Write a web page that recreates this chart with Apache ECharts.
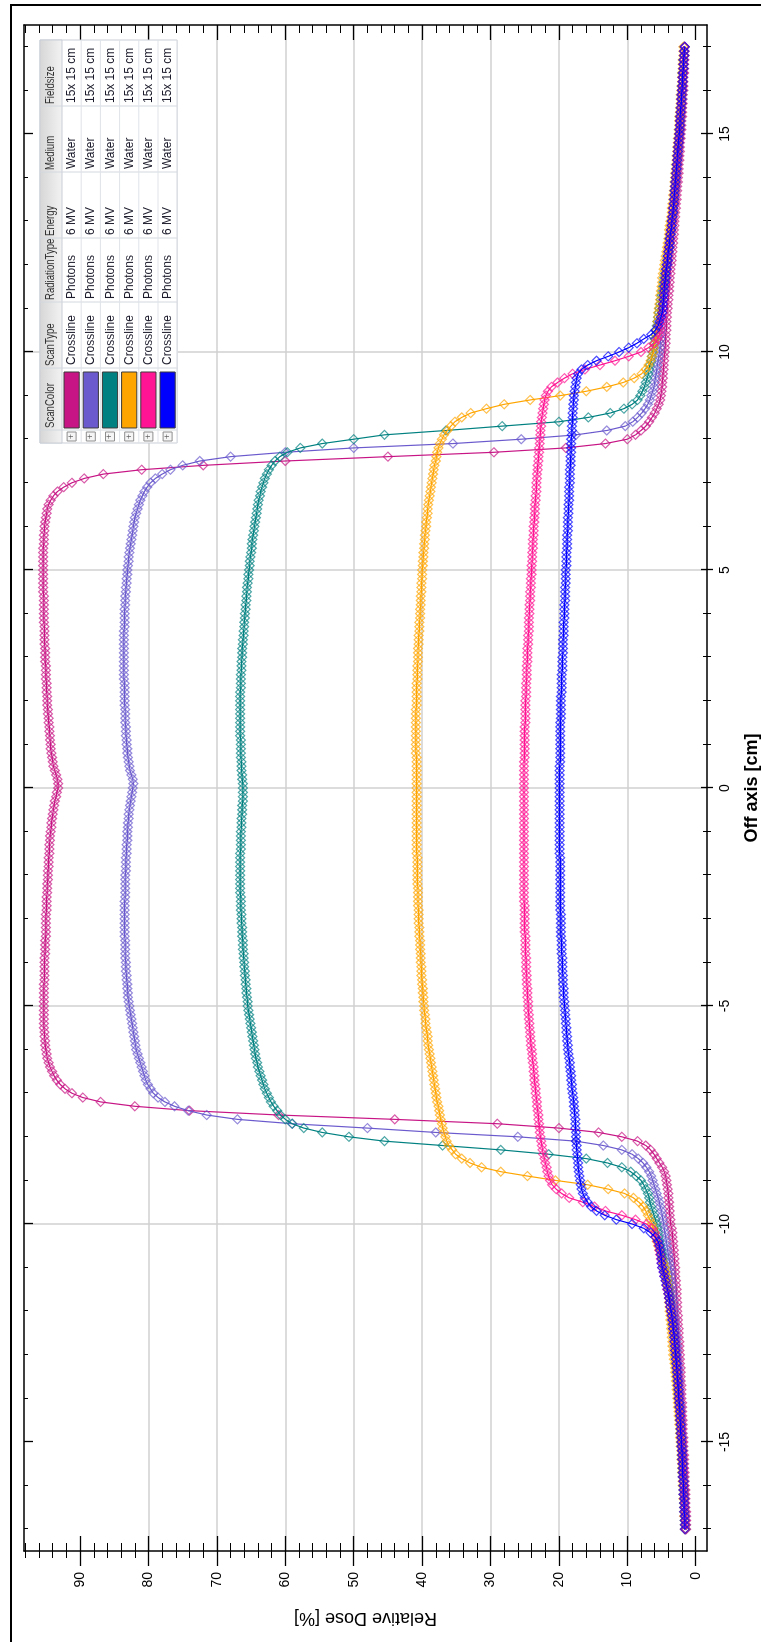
<!DOCTYPE html>
<html><head><meta charset="utf-8">
<script src="https://cdn.jsdelivr.net/npm/echarts@6/dist/echarts.min.js"></script>
<style>
html,body{margin:0;padding:0;background:#fff;overflow:hidden;width:761px;height:1642px;}
#chart{position:absolute;left:0;top:0;width:1642px;height:761px;transform-origin:0 0;transform:translateY(1642px) rotate(-90deg);}
</style></head><body><div id="chart"></div>
<script>
// ---------- DATA ----------
const offAxis = [
-17,-16.9,-16.8,-16.7,-16.6,-16.5,-16.4,-16.3,-16.2,-16.1,
-16,-15.9,-15.8,-15.7,-15.6,-15.5,-15.4,-15.3,-15.2,-15.1,
-15,-14.9,-14.8,-14.7,-14.6,-14.5,-14.4,-14.3,-14.2,-14.1,
-14,-13.9,-13.8,-13.7,-13.6,-13.5,-13.4,-13.3,-13.2,-13.1,
-13,-12.9,-12.8,-12.7,-12.6,-12.5,-12.4,-12.3,-12.2,-12.1,
-12,-11.9,-11.8,-11.7,-11.6,-11.5,-11.4,-11.3,-11.2,-11.1,
-11,-10.9,-10.8,-10.7,-10.6,-10.5,-10.4,-10.3,-10.2,-10.1,
-10,-9.9,-9.8,-9.7,-9.6,-9.5,-9.4,-9.3,-9.2,-9.1,
-9,-8.9,-8.8,-8.7,-8.6,-8.5,-8.4,-8.3,-8.2,-8.1,
-8,-7.9,-7.8,-7.7,-7.6,-7.5,-7.4,-7.3,-7.2,-7.1,
-7,-6.9,-6.8,-6.7,-6.6,-6.5,-6.4,-6.3,-6.2,-6.1,
-6,-5.9,-5.8,-5.7,-5.6,-5.5,-5.4,-5.3,-5.2,-5.1,
-5,-4.9,-4.8,-4.7,-4.6,-4.5,-4.4,-4.3,-4.2,-4.1,
-4,-3.9,-3.8,-3.7,-3.6,-3.5,-3.4,-3.3,-3.2,-3.1,
-3,-2.9,-2.8,-2.7,-2.6,-2.5,-2.4,-2.3,-2.2,-2.1,
-2,-1.9,-1.8,-1.7,-1.6,-1.5,-1.4,-1.3,-1.2,-1.1,
-1,-0.9,-0.8,-0.7,-0.6,-0.5,-0.4,-0.3,-0.2,-0.1,
0,0.1,0.2,0.3,0.4,0.5,0.6,0.7,0.8,0.9,
1,1.1,1.2,1.3,1.4,1.5,1.6,1.7,1.8,1.9,
2,2.1,2.2,2.3,2.4,2.5,2.6,2.7,2.8,2.9,
3,3.1,3.2,3.3,3.4,3.5,3.6,3.7,3.8,3.9,
4,4.1,4.2,4.3,4.4,4.5,4.6,4.7,4.8,4.9,
5,5.1,5.2,5.3,5.4,5.5,5.6,5.7,5.8,5.9,
6,6.1,6.2,6.3,6.4,6.5,6.6,6.7,6.8,6.9,
7,7.1,7.2,7.3,7.4,7.5,7.6,7.7,7.8,7.9,
8,8.1,8.2,8.3,8.4,8.5,8.6,8.7,8.8,8.9,
9,9.1,9.2,9.3,9.4,9.5,9.6,9.7,9.8,9.9,
10,10.1,10.2,10.3,10.4,10.5,10.6,10.7,10.8,10.9,
11,11.1,11.2,11.3,11.4,11.5,11.6,11.7,11.8,11.9,
12,12.1,12.2,12.3,12.4,12.5,12.6,12.7,12.8,12.9,
13,13.1,13.2,13.3,13.4,13.5,13.6,13.7,13.8,13.9,
14,14.1,14.2,14.3,14.4,14.5,14.6,14.7,14.8,14.9,
15,15.1,15.2,15.3,15.4,15.5,15.6,15.7,15.8,15.9,
16,16.1,16.2,16.3,16.4,16.5,16.6,16.7,16.8,16.9,
17];

const doseMagenta = [
1.4,1.4,1.4,1.4,1.4,1.5,1.5,1.5,1.5,1.5,
1.6,1.6,1.6,1.6,1.7,1.7,1.7,1.7,1.8,1.8,
1.8,1.8,1.9,1.9,1.9,1.9,2.0,2.0,2.0,2.0,
2.1,2.1,2.1,2.1,2.2,2.2,2.2,2.2,2.3,2.3,
2.3,2.4,2.4,2.4,2.5,2.5,2.5,2.6,2.6,2.6,
2.7,2.7,2.7,2.8,2.8,2.8,2.9,2.9,3.0,3.0,
3.0,3.1,3.1,3.2,3.2,3.3,3.3,3.4,3.4,3.5,
3.7,3.7,3.8,3.8,3.9,3.9,4.0,4.0,4.1,4.2,
4.3,4.4,4.6,4.9,5.3,5.7,6.1,6.6,7.3,8.5,
10.8,14.2,20,29,44,61,74,82,87,89.6,
91.2,92.2,92.9,93.4,93.8,94.1,94.4,94.6,94.8,94.9,
95.0,95.1,95.1,95.2,95.2,95.3,95.3,95.3,95.3,95.3,
95.3,95.3,95.3,95.3,95.3,95.3,95.2,95.2,95.2,95.2,
95.2,95.2,95.1,95.1,95.1,95.1,95.0,95.0,95.0,95.0,
95.0,95.0,94.9,94.9,94.9,94.9,94.8,94.8,94.8,94.7,
94.7,94.7,94.6,94.6,94.6,94.5,94.5,94.5,94.4,94.4,
94.3,94.2,94.2,94.1,94.0,93.9,93.8,93.7,93.5,93.4,
93.2,93.2,93.3,93.5,93.7,93.9,94.0,94.1,94.2,94.3,
94.3,94.4,94.4,94.5,94.5,94.6,94.6,94.7,94.7,94.8,
94.8,94.8,94.9,94.9,94.9,95.0,95.0,95.0,95.0,95.1,
95.1,95.1,95.1,95.2,95.2,95.2,95.2,95.2,95.3,95.3,
95.3,95.3,95.3,95.3,95.3,95.4,95.4,95.4,95.4,95.4,
95.4,95.4,95.4,95.4,95.4,95.4,95.3,95.3,95.3,95.2,
95.2,95.1,95.0,94.9,94.8,94.6,94.3,93.9,93.3,92.4,
91.2,89.4,86.6,81,72,60,45,29.5,19,13.2,
10.0,8.8,8.0,7.3,6.8,6.4,6.0,5.7,5.4,5.2,
5.1,5.0,4.9,4.9,4.8,4.8,4.7,4.7,4.6,4.6,
4.5,4.5,4.4,4.4,4.4,4.3,4.3,4.3,4.2,4.2,
4.1,4.1,4.0,4.0,3.9,3.9,3.8,3.8,3.7,3.7,
3.6,3.5,3.5,3.4,3.4,3.3,3.3,3.2,3.2,3.1,
3.1,3.0,3.0,2.9,2.9,2.8,2.8,2.7,2.7,2.6,
2.6,2.5,2.5,2.5,2.4,2.4,2.3,2.3,2.3,2.2,
2.2,2.1,2.1,2.1,2.0,2.0,2.0,1.9,1.9,1.9,
1.8,1.8,1.8,1.8,1.7,1.7,1.7,1.7,1.6,1.6,
1.6];

const dosePurple = [
1.5,1.5,1.5,1.5,1.6,1.6,1.6,1.6,1.7,1.7,
1.7,1.7,1.8,1.8,1.8,1.8,1.9,1.9,1.9,1.9,
2.0,2.0,2.0,2.1,2.1,2.1,2.2,2.2,2.2,2.3,
2.3,2.3,2.4,2.4,2.4,2.5,2.5,2.5,2.6,2.6,
2.7,2.7,2.7,2.8,2.8,2.9,2.9,3.0,3.0,3.1,
3.1,3.2,3.2,3.3,3.3,3.4,3.4,3.5,3.5,3.6,
3.7,3.8,3.9,4.0,4.1,4.2,4.3,4.4,4.5,4.6,
4.7,4.8,4.9,5.0,5.2,5.3,5.5,5.7,5.9,6.1,
6.3,6.5,6.8,7.2,7.7,8.4,9.3,10.8,13.5,17.5,
26,38,48,59,67,71.5,74.2,76.2,77.6,78.6,
79.3,79.7,80.1,80.4,80.6,80.8,81.0,81.2,81.4,81.6,
81.8,81.9,82.0,82.1,82.2,82.3,82.4,82.5,82.6,82.7,
82.8,82.9,83.0,83.0,83.1,83.1,83.2,83.2,83.3,83.3,
83.3,83.4,83.4,83.4,83.4,83.4,83.5,83.5,83.5,83.5,
83.5,83.5,83.5,83.5,83.5,83.4,83.4,83.4,83.4,83.4,
83.4,83.3,83.3,83.3,83.3,83.2,83.2,83.2,83.1,83.1,
83.1,83.0,83.0,82.9,82.9,82.8,82.7,82.6,82.5,82.4,
82.3,82.2,82.3,82.5,82.7,82.8,82.9,83.0,83.1,83.1,
83.2,83.2,83.3,83.3,83.3,83.4,83.4,83.4,83.4,83.5,
83.5,83.5,83.5,83.5,83.5,83.6,83.6,83.6,83.6,83.6,
83.6,83.6,83.6,83.6,83.6,83.6,83.6,83.5,83.5,83.5,
83.5,83.5,83.4,83.4,83.4,83.3,83.3,83.2,83.2,83.1,
83.1,83.0,82.9,82.9,82.8,82.7,82.6,82.5,82.4,82.3,
82.2,82.1,82.0,81.8,81.6,81.4,81.2,80.9,80.6,80.2,
79.7,79.0,78.0,76.8,75.0,72.5,68.0,60.0,50.0,35.5,
25.5,17.5,13.0,10.3,9.2,8.5,7.9,7.4,7.0,6.7,
6.5,6.3,6.1,6.0,5.9,5.8,5.7,5.6,5.5,5.4,
5.3,5.2,5.2,5.1,5.1,5.0,5.0,4.9,4.9,4.8,
4.8,4.7,4.7,4.6,4.5,4.5,4.4,4.3,4.3,4.2,
4.1,4.0,4.0,3.9,3.8,3.8,3.7,3.6,3.6,3.5,
3.4,3.4,3.3,3.3,3.2,3.1,3.1,3.0,3.0,2.9,
2.9,2.8,2.8,2.7,2.7,2.6,2.6,2.5,2.5,2.4,
2.4,2.3,2.3,2.2,2.2,2.2,2.1,2.1,2.0,2.0,
2.0,1.9,1.9,1.9,1.8,1.8,1.8,1.7,1.7,1.7,
1.6];

const doseTeal = [
1.5,1.5,1.6,1.6,1.6,1.6,1.7,1.7,1.7,1.7,
1.8,1.8,1.8,1.9,1.9,1.9,1.9,2.0,2.0,2.0,
2.1,2.1,2.2,2.2,2.2,2.3,2.3,2.3,2.4,2.4,
2.5,2.5,2.6,2.6,2.7,2.7,2.8,2.8,2.9,2.9,
3.0,3.0,3.1,3.1,3.2,3.2,3.3,3.4,3.4,3.5,
3.6,3.7,3.7,3.8,3.9,4.0,4.1,4.2,4.3,4.5,
4.6,4.7,4.8,4.9,5.0,5.2,5.3,5.4,5.5,5.6,
5.7,5.9,6.1,6.3,6.5,6.7,6.8,7.0,7.3,7.6,
8.0,8.7,9.5,10.8,12.9,16,21.5,28.5,37,45.5,
50.7,54.6,57.3,59.0,60.0,60.7,61.2,61.7,62.1,62.4,
62.7,63.0,63.2,63.4,63.6,63.8,64.0,64.1,64.3,64.4,
64.5,64.6,64.7,64.8,64.9,65.0,65.1,65.2,65.3,65.4,
65.5,65.5,65.6,65.7,65.7,65.8,65.8,65.9,65.9,66.0,
66.0,66.1,66.1,66.2,66.2,66.2,66.3,66.3,66.3,66.4,
66.4,66.4,66.5,66.5,66.5,66.5,66.6,66.6,66.6,66.6,
66.6,66.6,66.6,66.6,66.6,66.6,66.5,66.5,66.5,66.5,
66.5,66.4,66.4,66.4,66.3,66.3,66.3,66.2,66.2,66.2,
66.2,66.2,66.3,66.3,66.4,66.4,66.4,66.5,66.5,66.5,
66.5,66.5,66.6,66.6,66.6,66.6,66.6,66.6,66.6,66.6,
66.6,66.6,66.6,66.5,66.5,66.5,66.5,66.4,66.4,66.4,
66.3,66.3,66.3,66.2,66.2,66.1,66.1,66.0,66.0,65.9,
65.9,65.8,65.8,65.7,65.7,65.6,65.6,65.5,65.4,65.4,
65.3,65.2,65.2,65.1,65.0,64.9,64.9,64.8,64.7,64.6,
64.5,64.4,64.3,64.2,64.1,64.0,63.9,63.7,63.6,63.4,
63.2,63.0,62.7,62.4,62.0,61.5,60.8,59.7,57.8,54.6,
50.0,45.5,36.5,28.3,20.0,15.7,12.5,10.5,9.3,8.5,
8.1,7.8,7.5,7.3,7.1,6.9,6.8,6.7,6.5,6.4,
6.3,6.2,6.1,6.0,5.9,5.8,5.7,5.6,5.5,5.4,
5.3,5.2,5.1,5.0,4.9,4.8,4.7,4.6,4.5,4.4,
4.3,4.2,4.1,4.0,3.9,3.8,3.8,3.7,3.6,3.5,
3.5,3.4,3.3,3.3,3.2,3.1,3.1,3.0,3.0,2.9,
2.9,2.8,2.8,2.7,2.7,2.6,2.6,2.5,2.5,2.4,
2.4,2.3,2.3,2.3,2.2,2.2,2.1,2.1,2.1,2.0,
2.0,2.0,1.9,1.9,1.9,1.8,1.8,1.8,1.7,1.7,
1.7];

const doseOrange = [
1.6,1.6,1.6,1.7,1.7,1.7,1.7,1.8,1.8,1.8,
1.9,1.9,1.9,2.0,2.0,2.0,2.1,2.1,2.1,2.2,
2.2,2.3,2.3,2.3,2.4,2.4,2.5,2.5,2.6,2.6,
2.7,2.7,2.8,2.8,2.9,2.9,3.0,3.0,3.1,3.2,
3.3,3.3,3.4,3.4,3.5,3.5,3.6,3.6,3.7,3.7,
3.8,3.8,3.9,3.9,4.0,4.0,4.1,4.2,4.3,4.4,
4.5,4.7,4.9,5.1,5.3,5.5,5.7,5.9,6.0,6.2,
6.4,6.7,7.0,7.3,7.7,8.3,9.1,10.4,12.8,15.8,
20.5,24.6,28.5,31.3,33.0,34.2,35.1,35.6,36.1,36.4,
36.6,36.8,37.0,37.1,37.3,37.4,37.5,37.6,37.8,37.9,
38.0,38.1,38.2,38.3,38.4,38.5,38.6,38.7,38.8,38.9,
39.0,39.1,39.2,39.2,39.3,39.4,39.5,39.5,39.6,39.7,
39.7,39.8,39.8,39.9,39.9,40.0,40.0,40.1,40.1,40.1,
40.2,40.2,40.2,40.3,40.3,40.3,40.4,40.4,40.4,40.5,
40.5,40.5,40.5,40.6,40.6,40.6,40.6,40.6,40.7,40.7,
40.7,40.7,40.7,40.7,40.7,40.8,40.8,40.8,40.8,40.8,
40.8,40.8,40.8,40.8,40.8,40.8,40.8,40.8,40.8,40.8,
40.8,40.8,40.8,40.8,40.8,40.8,40.8,40.8,40.9,40.9,
40.9,40.9,40.9,40.9,40.9,40.9,40.9,40.9,40.9,40.8,
40.8,40.8,40.8,40.8,40.8,40.7,40.7,40.7,40.7,40.6,
40.6,40.6,40.6,40.5,40.5,40.5,40.4,40.4,40.4,40.3,
40.3,40.3,40.2,40.2,40.2,40.1,40.1,40.1,40.0,40.0,
40.0,39.9,39.9,39.8,39.8,39.7,39.7,39.6,39.6,39.5,
39.4,39.4,39.3,39.2,39.2,39.1,39.0,38.9,38.8,38.7,
38.6,38.5,38.4,38.3,38.2,38.0,37.9,37.8,37.6,37.4,
37.1,36.8,36.3,35.8,35.2,34.2,32.9,30.6,28.0,24.2,
19.8,16.0,13.0,10.6,9.0,7.9,7.3,6.9,6.6,6.4,
6.2,6.1,6.0,5.9,5.8,5.7,5.6,5.6,5.5,5.5,
5.4,5.3,5.2,5.2,5.1,5.0,4.9,4.9,4.8,4.7,
4.6,4.5,4.4,4.3,4.2,4.1,4.0,3.9,3.9,3.8,
3.7,3.6,3.5,3.5,3.4,3.3,3.3,3.2,3.1,3.1,
3.0,3.0,2.9,2.9,2.8,2.8,2.7,2.7,2.6,2.6,
2.5,2.5,2.4,2.4,2.4,2.3,2.3,2.2,2.2,2.2,
2.1,2.1,2.0,2.0,2.0,1.9,1.9,1.9,1.8,1.8,
1.8];

const dosePink = [
1.5,1.5,1.5,1.6,1.6,1.6,1.6,1.7,1.7,1.7,
1.7,1.8,1.8,1.8,1.8,1.9,1.9,1.9,2.0,2.0,
2.0,2.1,2.1,2.1,2.2,2.2,2.2,2.3,2.3,2.4,
2.4,2.4,2.5,2.5,2.6,2.6,2.7,2.7,2.8,2.8,
2.9,3.0,3.0,3.1,3.1,3.2,3.3,3.3,3.4,3.5,
3.6,3.7,3.8,3.9,4.0,4.2,4.3,4.4,4.6,4.7,
4.9,5.0,5.1,5.2,5.3,5.4,5.6,5.8,6.0,6.4,
7.2,8.8,10.8,13.2,14.8,16.5,18.5,19.6,20.4,21.0,
21.3,21.5,21.7,21.8,22.0,22.1,22.3,22.4,22.5,22.6,
22.7,22.8,22.8,22.9,23.0,23.0,23.1,23.2,23.2,23.3,
23.4,23.4,23.5,23.6,23.6,23.7,23.7,23.8,23.9,23.9,
24.0,24.1,24.1,24.2,24.2,24.3,24.3,24.4,24.4,24.5,
24.5,24.5,24.6,24.6,24.6,24.7,24.7,24.7,24.8,24.8,
24.8,24.8,24.9,24.9,24.9,24.9,24.9,25.0,25.0,25.0,
25.0,25.0,25.0,25.0,25.1,25.1,25.1,25.1,25.1,25.1,
25.1,25.1,25.1,25.1,25.1,25.1,25.1,25.1,25.1,25.1,
25.1,25.1,25.1,25.1,25.1,25.1,25.1,25.1,25.1,25.1,
25.1,25.1,25.1,25.1,25.1,25.1,25.1,25.0,25.0,25.0,
25.0,25.0,25.0,25.0,25.0,24.9,24.9,24.9,24.9,24.9,
24.9,24.8,24.8,24.8,24.8,24.7,24.7,24.7,24.7,24.6,
24.6,24.6,24.6,24.5,24.5,24.5,24.4,24.4,24.4,24.4,
24.3,24.3,24.3,24.2,24.2,24.2,24.1,24.1,24.1,24.0,
24.0,24.0,23.9,23.9,23.9,23.8,23.8,23.8,23.7,23.7,
23.7,23.6,23.6,23.5,23.5,23.5,23.4,23.4,23.3,23.3,
23.3,23.2,23.2,23.1,23.1,23.0,23.0,22.9,22.9,22.8,
22.8,22.7,22.7,22.6,22.6,22.5,22.4,22.3,22.2,22.1,
21.9,21.6,21.1,20.2,19.2,18.0,16.2,14.0,11.8,9.8,
8.0,6.9,6.0,5.6,5.3,5.2,5.1,5.0,4.9,4.8,
4.8,4.7,4.7,4.6,4.6,4.5,4.4,4.4,4.3,4.3,
4.2,4.1,4.0,4.0,3.9,3.8,3.7,3.7,3.6,3.5,
3.4,3.4,3.3,3.3,3.2,3.1,3.1,3.0,3.0,2.9,
2.9,2.8,2.8,2.7,2.7,2.6,2.6,2.5,2.5,2.4,
2.4,2.3,2.3,2.3,2.2,2.2,2.1,2.1,2.1,2.0,
2.0,1.9,1.9,1.9,1.8,1.8,1.8,1.7,1.7,1.7,
1.6];

const doseBlue = [
1.6,1.6,1.6,1.6,1.7,1.7,1.7,1.7,1.8,1.8,
1.8,1.8,1.9,1.9,1.9,1.9,2.0,2.0,2.0,2.1,
2.1,2.1,2.2,2.2,2.2,2.3,2.3,2.3,2.4,2.4,
2.5,2.5,2.5,2.6,2.6,2.7,2.7,2.8,2.8,2.9,
2.9,3.0,3.0,3.1,3.1,3.2,3.3,3.3,3.4,3.5,
3.6,3.7,3.8,3.9,4.0,4.1,4.3,4.4,4.6,4.7,
4.9,5.0,5.0,5.1,5.2,5.3,5.5,5.9,6.6,7.6,
9.3,11.6,13.3,14.5,15.3,15.8,16.2,16.5,16.7,16.8,
16.9,17.0,17.1,17.2,17.2,17.3,17.3,17.4,17.4,17.5,
17.5,17.5,17.6,17.6,17.6,17.7,17.7,17.8,17.8,17.9,
18.0,18.1,18.1,18.2,18.2,18.3,18.4,18.4,18.5,18.6,
18.7,18.7,18.8,18.8,18.9,18.9,19.0,19.0,19.1,19.1,
19.2,19.2,19.3,19.3,19.3,19.4,19.4,19.4,19.5,19.5,
19.5,19.5,19.6,19.6,19.6,19.6,19.7,19.7,19.7,19.7,
19.7,19.7,19.8,19.8,19.8,19.8,19.8,19.8,19.8,19.8,
19.8,19.8,19.8,19.8,19.8,19.9,19.9,19.9,19.9,19.9,
19.9,19.9,19.9,19.9,19.9,19.9,19.9,19.9,19.9,19.9,
19.9,19.9,19.9,19.9,19.9,19.9,19.8,19.8,19.8,19.8,
19.8,19.8,19.8,19.8,19.8,19.8,19.7,19.7,19.7,19.7,
19.7,19.7,19.6,19.6,19.6,19.6,19.6,19.5,19.5,19.5,
19.5,19.4,19.4,19.4,19.4,19.3,19.3,19.3,19.3,19.2,
19.2,19.2,19.2,19.1,19.1,19.1,19.1,19.0,19.0,19.0,
19.0,18.9,18.9,18.9,18.9,18.8,18.8,18.8,18.8,18.7,
18.7,18.7,18.7,18.6,18.6,18.6,18.5,18.5,18.5,18.5,
18.4,18.4,18.4,18.4,18.3,18.3,18.3,18.2,18.2,18.2,
18.2,18.1,18.1,18.1,18.0,18.0,18.0,17.9,17.9,17.8,
17.8,17.7,17.6,17.5,17.4,17.2,16.7,15.8,14.5,12.8,
11.2,9.8,8.6,7.6,6.5,5.9,5.5,5.3,5.1,4.9,
4.8,4.8,4.7,4.7,4.6,4.6,4.5,4.4,4.4,4.3,
4.2,4.1,4.1,4.0,3.9,3.8,3.8,3.7,3.6,3.5,
3.5,3.4,3.3,3.3,3.2,3.2,3.1,3.1,3.0,3.0,
2.9,2.9,2.8,2.8,2.7,2.7,2.6,2.6,2.5,2.5,
2.4,2.4,2.3,2.3,2.3,2.2,2.2,2.1,2.1,2.1,
2.0,2.0,1.9,1.9,1.9,1.8,1.8,1.8,1.7,1.7,
1.6];

const seriesNames = ['Scan 1','Scan 2','Scan 3','Scan 4','Scan 5','Scan 6'];
const seriesColors = ['#C71585','#6A5ACD','#008080','#FFA500','#FF1493','#0000FF'];
const offAxisTicks = [-15,-10,-5,0,5,10,15];
const doseTicks = [0,10,20,30,40,50,60,70,80,90];

const tableHeaders = ['ScanColor','ScanType','RadiationType','Energy','Medium','Fieldsize'];
const scanTypes = ['Crossline','Crossline','Crossline','Crossline','Crossline','Crossline'];
const radiationTypes = ['Photons','Photons','Photons','Photons','Photons','Photons'];
const energies = ['6 MV','6 MV','6 MV','6 MV','6 MV','6 MV'];
const media = ['Water','Water','Water','Water','Water','Water'];
const fieldSizes = ['15x 15 cm','15x 15 cm','15x 15 cm','15x 15 cm','15x 15 cm','15x 15 cm'];

// ---------- CHART ----------
const doseSeries = [doseMagenta, dosePurple, doseTeal, doseOrange, dosePink, doseBlue];
const FONT = '"Liberation Sans", Arial, Helvetica, sans-serif';

function rgba(hex, a) {
  const n = parseInt(hex.slice(1), 16);
  return 'rgba(' + ((n >> 16) & 255) + ',' + ((n >> 8) & 255) + ',' + (n & 255) + ',' + a + ')';
}

const chart = echarts.init(document.getElementById('chart'), null, {renderer: 'canvas', width: 1642, height: 761});

const tickLine = {color: '#000', width: 1.3};
const xBase = {type: 'value', min: -17.5, max: 17.5, splitNumber: 7, minInterval: 5, maxInterval: 5};
const yBase = {type: 'value', min: -1.65, max: 98.2, splitNumber: 10, minInterval: 10, maxInterval: 10};

// legend table as graphic elements
const tableLeft = 1199, colStarts = [1212, 1274, 1340, 1404, 1470, 1536], tableRight = 1602;
const tableTop = 40, headerH = 22, rowH = 19.2;
const tableBottom = tableTop + headerH + rowH * 6;
const gEls = [];
gEls.push({type: 'rect', z: 100, shape: {x: tableLeft, y: tableTop, width: tableRight - tableLeft, height: tableBottom - tableTop},
  style: {fill: '#ffffff', stroke: '#c9ced6', lineWidth: 1}});
gEls.push({type: 'rect', z: 101, shape: {x: tableLeft, y: tableTop, width: tableRight - tableLeft, height: headerH},
  style: {fill: new echarts.graphic.LinearGradient(0, 0, 0, 1, [{offset: 0, color: '#d6d6d6'}, {offset: 1, color: '#f3f3f3'}]), stroke: '#c9ced6', lineWidth: 1}});
colStarts.forEach(function (cx) {
  gEls.push({type: 'line', z: 102, shape: {x1: cx, y1: tableTop, x2: cx, y2: tableBottom}, style: {stroke: '#d3d8df', lineWidth: 1}});
});
for (let r = 0; r < 6; r++) {
  const y = tableTop + headerH + rowH * (r + 1);
  gEls.push({type: 'line', z: 102, shape: {x1: tableLeft, y1: y, x2: tableRight, y2: y}, style: {stroke: '#dfe3e8', lineWidth: 1}});
}
tableHeaders.forEach(function (h, c) {
  gEls.push({type: 'text', z: 103, x: colStarts[c] + 2, y: tableTop + headerH / 2, scaleX: 0.8,
    style: {text: h, font: '12px ' + FONT, fill: '#333', align: 'left', verticalAlign: 'middle', textAlign: 'left', textVerticalAlign: 'middle'}});
});
const rowCols = [scanTypes, radiationTypes, energies, media, fieldSizes];
for (let r = 0; r < 6; r++) {
  const top = tableTop + headerH + rowH * r;
  const cy = top + rowH / 2;
  gEls.push({type: 'rect', z: 103, shape: {x: tableLeft + 2, y: cy - 4.5, width: 9, height: 9},
    style: {fill: '#f5f5f5', stroke: '#8e8e8e', lineWidth: 1}});
  gEls.push({type: 'text', z: 104, x: tableLeft + 6.5, y: cy,
    style: {text: '+', font: '9px ' + FONT, fill: '#555', align: 'center', verticalAlign: 'middle', textAlign: 'center', textVerticalAlign: 'middle'}});
  gEls.push({type: 'rect', z: 103, shape: {x: colStarts[0] + 2, y: top + 2, width: colStarts[1] - colStarts[0] - 6, height: rowH - 4},
    style: {fill: seriesColors[r], stroke: '#3a3a3a', lineWidth: 1}});
  rowCols.forEach(function (arr, c) {
    gEls.push({type: 'text', z: 103, x: colStarts[c + 1] + 3, y: cy, scaleX: 0.92,
      style: {text: arr[r], font: '13px ' + FONT, fill: '#1c1c2c', align: 'left', verticalAlign: 'middle', textAlign: 'left', textVerticalAlign: 'middle'}});
  });
}
// outer frame
gEls.push({type: 'rect', z: 90, shape: {x: -6, y: 11, width: 1643, height: 770}, style: {fill: 'none', stroke: '#000', lineWidth: 2}});

const option = {
  animation: false,
  backgroundColor: '#ffffff',
  grid: {left: 91, right: 25, top: 24, bottom: 54, containLabel: false, outerBoundsMode: 'none'},
  xAxis: [
    Object.assign({}, xBase, {
      position: 'bottom',
      axisLine: {show: true, onZero: false, lineStyle: {color: '#000', width: 1.5}},
      axisTick: {show: true, inside: false, length: 6, customValues: offAxisTicks, lineStyle: tickLine},
      minorTick: {show: true, splitNumber: 5, length: 4, lineStyle: {color: '#000', width: 1}},
      axisLabel: {show: true, customValues: offAxisTicks, margin: 11, fontSize: 14, color: '#000', fontFamily: FONT},
      splitLine: {show: true, showMinLine: false, showMaxLine: false, lineStyle: {color: '#d0d0d0', width: 1.5}},
      name: 'Off axis [cm]', nameLocation: 'middle', nameGap: 36,
      nameTextStyle: {fontSize: 18, fontWeight: 'bold', color: '#000', fontFamily: FONT}
    }),
    Object.assign({}, xBase, {
      position: 'bottom',
      axisLine: {show: false, onZero: false},
      axisTick: {show: true, inside: true, length: 6, customValues: offAxisTicks, lineStyle: tickLine},
      minorTick: {show: true, splitNumber: 5, length: 4, lineStyle: {color: '#000', width: 1}},
      axisLabel: {show: false}, splitLine: {show: false}
    }),
    Object.assign({}, xBase, {
      position: 'top',
      axisLine: {show: true, onZero: false, lineStyle: {color: '#000', width: 1.5}},
      axisTick: {show: true, inside: true, length: 9, customValues: offAxisTicks, lineStyle: tickLine},
      minorTick: {show: true, splitNumber: 5, length: 4, lineStyle: {color: '#000', width: 1}},
      axisLabel: {show: false}, splitLine: {show: false}
    })
  ],
  yAxis: [
    Object.assign({}, yBase, {
      position: 'left',
      axisLine: {show: true, onZero: false, lineStyle: {color: '#000', width: 1.5}},
      axisTick: {show: true, inside: false, length: 15, customValues: doseTicks, lineStyle: tickLine},
      minorTick: {show: true, splitNumber: 5, length: 7, lineStyle: {color: '#000', width: 1}},
      axisLabel: {show: true, customValues: doseTicks, margin: 21, fontSize: 14, color: '#000', fontFamily: FONT},
      splitLine: {show: true, showMinLine: false, showMaxLine: false, lineStyle: {color: '#d0d0d0', width: 1.5}},
      name: 'Relative Dose [%]', nameLocation: 'middle', nameGap: 58, nameRotate: 90,
      nameTextStyle: {fontSize: 18, color: '#000', fontFamily: FONT}
    }),
    Object.assign({}, yBase, {
      position: 'left',
      axisLine: {show: false, onZero: false},
      axisTick: {show: true, inside: true, length: 15, customValues: doseTicks, lineStyle: tickLine},
      minorTick: {show: true, splitNumber: 5, length: 8, lineStyle: {color: '#000', width: 1}},
      axisLabel: {show: false}, splitLine: {show: false}
    }),
    Object.assign({}, yBase, {
      position: 'right',
      axisLine: {show: true, onZero: false, lineStyle: {color: '#000', width: 1.5}},
      axisTick: {show: true, inside: true, length: 15, customValues: doseTicks, lineStyle: tickLine},
      minorTick: {show: true, splitNumber: 5, length: 8, lineStyle: {color: '#000', width: 1}},
      axisLabel: {show: false}, splitLine: {show: false}
    })
  ],
  series: doseSeries.map(function (d, k) {
    return {
      type: 'line', name: seriesNames[k], xAxisIndex: 0, yAxisIndex: 0,
      data: offAxis.map(function (x, i) { return [x, d[i]]; }),
      symbol: 'diamond', symbolSize: 9, showSymbol: true, showAllSymbol: true,
      lineStyle: {color: seriesColors[k], width: 1.2},
      itemStyle: {color: 'rgba(255,255,255,0)', borderColor: rgba(seriesColors[k], 0.7), borderWidth: 1.2},
      emphasis: {disabled: true}, silent: true, z: 2 + k, clip: true
    };
  }),
  graphic: {elements: gEls}
};
chart.setOption(option);
</script>
</body></html>
